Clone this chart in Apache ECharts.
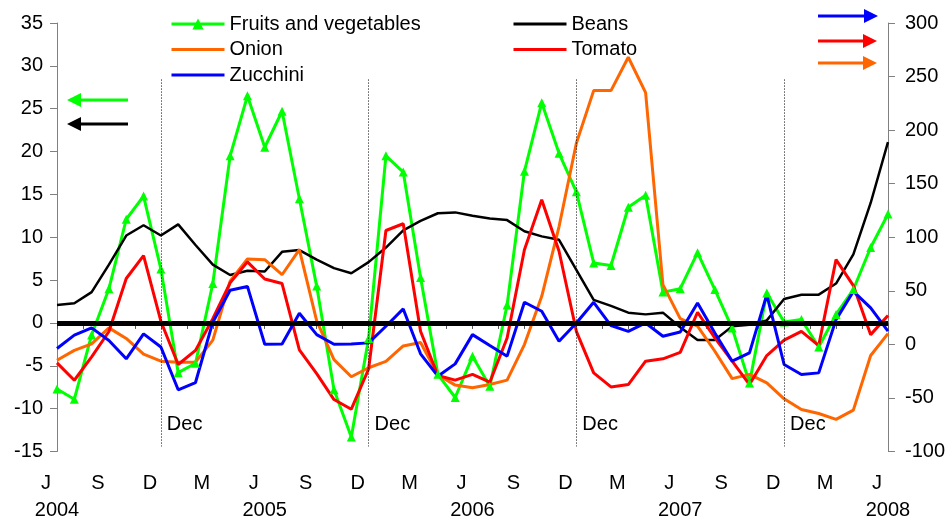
<!DOCTYPE html>
<html>
<head>
<meta charset="utf-8">
<script src="https://cdn.jsdelivr.net/npm/echarts@6/dist/echarts.min.js"></script>
<style>
  html, body { margin: 0; padding: 0; background: #fff; }
  #main { width: 948px; height: 520px; }
</style>
</head>
<body>
<div id="main"></div>
<script>
// monthly points, June 2004 .. June 2008
const monthLetters = ['J', 'S', 'D', 'M'] // every 3rd month from June
const years = ['2004', '2005', '2006', '2007', '2008']
const decIndex = [6, 18, 30, 42] // December positions

// left axis (%)
const fruitVeg = [-7.7, -8.9, -1.4, 4.0, 12.1, 14.8, 6.3, -5.8, -4.7, 4.6, 19.5, 26.5, 20.5,
  24.7, 14.5, 4.3, -7.8, -13.3, -1.8, 19.5, 17.6, 5.3, -6.0, -8.7, -3.9,
  -7.4, 2.1, 17.7, 25.7, 19.8, 15.3, 7.0, 6.7, 13.5, 14.9, 3.6, 4.0,
  8.2, 3.9, -0.6, -7.0, 3.5, 0.1, 0.4, -2.8, 1.0, 3.9, 8.8, 12.7]
const beans = [2.1, 2.3, 3.6, 6.8, 10.2, 11.4, 10.2, 11.5, 9.1, 6.8, 5.6, 6.1, 6.0,
  8.3, 8.5, 7.4, 6.4, 5.8, 7.1, 8.8, 10.8, 11.9, 12.8, 12.9, 12.5,
  12.2, 12.0, 10.7, 10.1, 9.7, 6.2, 2.7, 2.0, 1.2, 1.0, 1.2, -0.5,
  -2.0, -2.0, -0.4, -0.2, 0.3, 2.8, 3.3, 3.3, 4.6, 8.0, 14.0, 21.1]
// right axis (%)
const onion = [-14.8, -5.6, 0.4, 15.4, 5.5, -9.2, -15.7, -16.6, -16.6, 4.0, 58.9, 79.7, 79.1,
  65, 88.4, 22, -14.2, -30.2, -21.8, -15.9, -1.5, 1.8, -28.5, -38, -40.5,
  -37.5, -33.4, -0.2, 44.9, 110, 187.8, 236.9, 236.9, 268, 235, 55.8, 24,
  17, -6.4, -32, -28, -36, -50.8, -60.8, -64.5, -70, -61.4, -10.4, 10.1]
const tomato = [-17.3, -33.5, -11.7, 12, 61.5, 82.8, 21.6, -18.8, -5.6, 24, 57.4, 77, 61,
  56.8, -5.2, -27.3, -51.5, -60.5, -23, 106.3, 112.6, 12.2, -29.1, -33.4, -28,
  -35.3, 6.0, 88.4, 135, 86.9, 12.2, -26.6, -39.7, -37.5, -15.7, -13.5, -7.5,
  30, 6, -15.7, -37.5, -10.4, 3.9, 12.2, -1.1, 79.1, 54.9, 9.1, 26.9]
const zucchini = [-3.8, 8.6, 15.4, 3.7, -13.5, 9.8, -2.5, -42.4, -35.6, 20.7, 50.5, 54.1, 0.1,
  0.4, 29, 9.1, 0.1, 0.4, 1.4, 16.9, 33.1, -8.8, -29.7, -18.2, 9.1,
  -1.1, -11.0, 39.3, 30.9, 2.9, 20.0, 39.3, 17.6, 12.2, 20.0, 7.6, 11.5,
  38.7, 10.7, -15.7, -8.0, 46.5, -18.8, -28.1, -26.6, 23.1, 49.5, 34.0, 12.3]

const font = 'Liberation Sans, Arial, sans-serif'
const pairs = arr => arr.map((v, i) => [i, v])
const noDot = name => ({ name: name, itemStyle: { opacity: 0 } }) // legend entry: line only

const chart = echarts.init(document.getElementById('main'), null, { renderer: 'canvas' })

// little arrows that say which axis a series belongs to
function arrow (x1, x2, y, color) {
  const dir = x2 > x1 ? 1 : -1
  const head = 14
  return {
    type: 'group',
    children: [
      { type: 'line', shape: { x1: x1, y1: y, x2: x2 - dir * head, y2: y }, style: { stroke: color, lineWidth: 3 } },
      { type: 'polygon', shape: { points: [[x2, y], [x2 - dir * head, y - 7], [x2 - dir * head, y + 7]] }, style: { fill: color } }
    ]
  }
}

const legendBase = {
  orient: 'vertical',
  top: 9,
  itemWidth: 53,
  itemHeight: 14,
  itemGap: 5.5,
  lineStyle: { width: 3 },
  textStyle: { fontSize: 20, color: '#000', lineHeight: 20, fontFamily: font }
}

chart.setOption({
  animation: false,
  backgroundColor: '#fff',
  textStyle: { fontFamily: font },
  grid: { left: 57, right: 60, top: 23, bottom: 68, containLabel: false },
  legend: [
    Object.assign({}, legendBase, { left: 165, data: ['Fruits and vegetables', noDot('Onion'), noDot('Zucchini')] }),
    Object.assign({}, legendBase, { left: 507, data: [noDot('Beans'), noDot('Tomato')] })
  ],
  xAxis: {
    type: 'value',
    min: 0,
    max: 48,
    interval: 1.5,
    splitLine: { show: false },
    axisLine: { lineStyle: { color: '#555', width: 1 } },
    axisTick: { length: 6, lineStyle: { color: '#555' } },
    axisLabel: {
      margin: 18,
      showMinLabel: true,
      showMaxLabel: true,
      hideOverlap: false,
      formatter: function (v) {
        const k = Math.round(v * 2) / 2
        if (k % 3 !== 0) return ''
        const letter = monthLetters[(k / 3) % 4]
        if (k % 12 === 0) return '{m|' + letter + '}\n{y|' + years[k / 12] + '}'
        return '{m|' + letter + '}'
      },
      rich: {
        m: { fontSize: 20, color: '#000', lineHeight: 27, padding: [0, 22, 0, 0], fontFamily: font },
        y: { fontSize: 20, color: '#000', lineHeight: 27, fontFamily: font }
      }
    }
  },
  yAxis: [{
    type: 'value',
    min: -15,
    max: 35,
    interval: 5,
    splitLine: { show: false },
    axisLine: { show: true, lineStyle: { color: '#808080' } },
    axisTick: { show: true, length: 7, lineStyle: { color: '#808080' } },
    axisLabel: { margin: 14, fontSize: 20, color: '#000', fontFamily: font }
  }, {
    type: 'value',
    min: -100,
    max: 300,
    interval: 50,
    splitLine: { show: false },
    axisLine: { show: true, lineStyle: { color: '#808080' } },
    axisTick: { show: true, length: 7, lineStyle: { color: '#808080' } },
    axisLabel: { margin: 17, fontSize: 20, color: '#000', fontFamily: font }
  }],
  graphic: [
    arrow(128, 67, 100, '#00ff00'),
    arrow(128, 67, 124, '#000000'),
    arrow(818, 878, 16, '#0000ff'),
    arrow(818, 877, 41, '#ff0000'),
    arrow(818, 877, 63, '#ff6600')
  ],
  series: [{
    name: 'Fruits and vegetables',
    type: 'line',
    yAxisIndex: 0,
    data: pairs(fruitVeg),
    symbol: 'triangle',
    symbolSize: 9,
    itemStyle: { color: '#00ff00' },
    lineStyle: { color: '#00ff00', width: 3 },
    markLine: {
      silent: true,
      symbol: 'none',
      label: { show: false },
      lineStyle: { color: '#000', type: [1, 2], width: 1 },
      data: decIndex.map(i => [{ coord: [i, 28.4] }, { coord: [i, -14.4] }])
    },
    markPoint: {
      silent: true,
      symbolSize: 0,
      label: { show: true, position: 'right', distance: 6, formatter: 'Dec', fontSize: 20, color: '#000', fontFamily: font },
      data: decIndex.map(i => ({ coord: [i, -11.85] }))
    }
  }, {
    name: 'Beans',
    type: 'line',
    yAxisIndex: 0,
    data: pairs(beans),
    symbol: 'none',
    itemStyle: { color: '#000' },
    lineStyle: { color: '#000', width: 2.5 },
    markLine: {
      silent: true,
      symbol: 'none',
      label: { show: false },
      lineStyle: { color: '#000', type: 'solid', width: 5 },
      data: [{ yAxis: 0 }]
    }
  }, {
    name: 'Onion',
    type: 'line',
    yAxisIndex: 1,
    data: pairs(onion),
    symbol: 'none',
    itemStyle: { color: '#ff6600' },
    lineStyle: { color: '#ff6600', width: 3 }
  }, {
    name: 'Tomato',
    type: 'line',
    yAxisIndex: 1,
    data: pairs(tomato),
    symbol: 'none',
    itemStyle: { color: '#ff0000' },
    lineStyle: { color: '#ff0000', width: 3 }
  }, {
    name: 'Zucchini',
    type: 'line',
    yAxisIndex: 1,
    data: pairs(zucchini),
    symbol: 'none',
    itemStyle: { color: '#0000ff' },
    lineStyle: { color: '#0000ff', width: 3 }
  }]
})
</script>
</body>
</html>
